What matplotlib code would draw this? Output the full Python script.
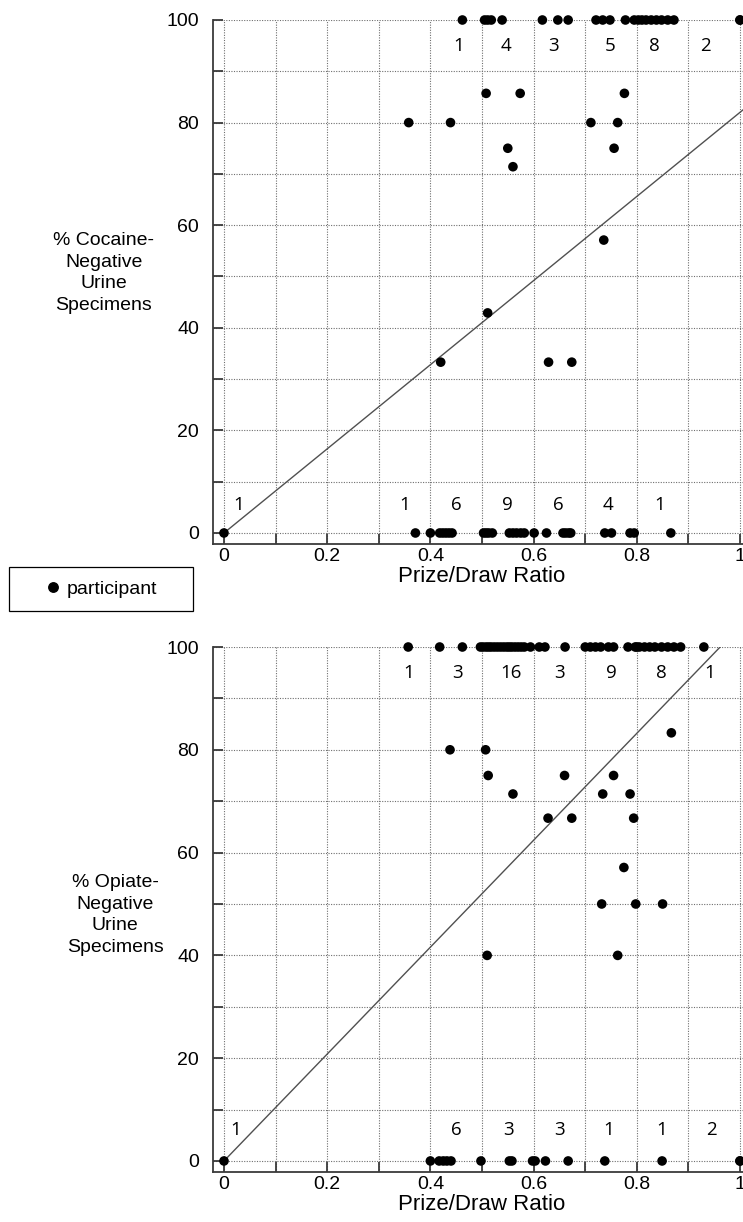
import numpy as np
import matplotlib
matplotlib.use("Agg")
import matplotlib.pyplot as plt
from matplotlib.lines import Line2D
from matplotlib.ticker import FixedLocator, FuncFormatter

# ---------------- data ----------------
# Cocaine panel
coc_top_x = [0.462, 0.505, 0.511, 0.518, 0.539, 0.617, 0.647, 0.667,
             0.721, 0.734, 0.748, 0.778, 0.795, 0.803, 0.81, 0.818, 0.828,
             0.838, 0.848, 0.86, 0.872, 1.0, 1.0]
coc_mid_x = [0.508, 0.574, 0.776, 0.358, 0.439, 0.711, 0.763, 0.550, 0.756,
             0.560, 0.736, 0.511, 0.420, 0.629, 0.674]
coc_mid_y = [85.7, 85.7, 85.7, 80.0, 80.0, 80.0, 80.0, 75.0, 75.0,
             71.4, 57.1, 42.9, 33.3, 33.3, 33.3]
coc_bot_x = [0.0, 0.371, 0.40, 0.418, 0.424, 0.43, 0.436, 0.442, 0.503, 0.508,
             0.513, 0.52, 0.553, 0.56, 0.567, 0.575, 0.582, 0.601, 0.625,
             0.657, 0.662, 0.668, 0.672, 0.738, 0.751, 0.787, 0.795, 0.866]
coc_slope = 82.0
coc_top_counts = ["1", "4", "3", "5", "8", "2"]
coc_top_count_x = [0.455, 0.546, 0.639, 0.748, 0.835, 0.933]
coc_bot_counts = ["1", "1", "6", "9", "6", "4", "1"]
coc_bot_count_x = [0.028, 0.351, 0.451, 0.549, 0.647, 0.745, 0.845]

# Opiate panel
opi_top_x = [0.357, 0.418, 0.462, 0.497, 0.502, 0.508, 0.513, 0.518, 0.524,
             0.53, 0.536, 0.542, 0.548, 0.553, 0.558, 0.564, 0.57, 0.576,
             0.582, 0.594, 0.611, 0.622, 0.661, 0.70, 0.71, 0.72, 0.73,
             0.745, 0.755, 0.783, 0.797, 0.80, 0.805, 0.815, 0.825, 0.835,
             0.848, 0.86, 0.872, 0.885, 0.93]
opi_mid_x = [0.867, 0.438, 0.507, 0.512, 0.660, 0.755, 0.560, 0.734, 0.787,
             0.628, 0.674, 0.794, 0.775, 0.732, 0.798, 0.850, 0.510, 0.763]
opi_mid_y = [83.3, 80.0, 80.0, 75.0, 75.0, 75.0, 71.4, 71.4, 71.4,
             66.7, 66.7, 66.7, 57.1, 50.0, 50.0, 50.0, 40.0, 40.0]
opi_bot_x = [0.0, 0.40, 0.417, 0.425, 0.432, 0.44, 0.498, 0.553, 0.558, 0.598,
             0.603, 0.623, 0.667, 0.738, 0.849, 1.0, 1.0]
opi_slope = 104.0
opi_top_counts = ["1", "3", "16", "3", "9", "8", "1"]
opi_top_count_x = [0.358, 0.452, 0.556, 0.651, 0.75, 0.848, 0.942]
opi_bot_counts = ["1", "6", "3", "3", "1", "1", "2"]
opi_bot_count_x = [0.023, 0.45, 0.552, 0.651, 0.746, 0.849, 0.944]

x_ticks = [round(0.1 * i, 1) for i in range(11)]
y_ticks = list(range(0, 101, 10))
x_ticklabels = {0.0: "0", 0.2: "0.2", 0.4: "0.4", 0.6: "0.6", 0.8: "0.8", 1.0: "1"}

ylabels = ["% Cocaine-\nNegative\nUrine\nSpecimens",
           "% Opiate-\nNegative\nUrine\nSpecimens"]
xlabel = "Prize/Draw Ratio"
legend_label = "participant"

# ---------------- figure ----------------
W, H = 743, 1222
fig = plt.figure(figsize=(W / 100, H / 100), dpi=100)
fig.patch.set_facecolor("white")

SANS = "Liberation Sans"
NUMF = "Open Sans"
spine_c = "#3a3a3a"

def px_rect(left, top, right, bottom):
    return [left / W, 1 - bottom / H, (right - left) / W, (bottom - top) / H]

ax1 = fig.add_axes(px_rect(213, 20, 750, 543.6))
ax2 = fig.add_axes(px_rect(213, 647, 750, 1171.6))

panels = [
    (ax1, coc_top_x, coc_mid_x, coc_mid_y, coc_bot_x, coc_slope,
     coc_top_counts, coc_top_count_x, coc_bot_counts, coc_bot_count_x, 5.5),
    (ax2, opi_top_x, opi_mid_x, opi_mid_y, opi_bot_x, opi_slope,
     opi_top_counts, opi_top_count_x, opi_bot_counts, opi_bot_count_x, 6.0),
]

for i, (ax, tx, mx, my, bx, slope, tc, tcx, bc, bcx, bot_y) in enumerate(panels):
    ax.set_xlim(-0.0213, 1.0194)
    ax.set_ylim(-2.07, 100)
    ax.xaxis.set_major_locator(FixedLocator(x_ticks))
    ax.yaxis.set_major_locator(FixedLocator(y_ticks))
    ax.xaxis.set_major_formatter(FuncFormatter(
        lambda v, p: x_ticklabels.get(round(v, 1), "")))
    ax.yaxis.set_major_formatter(FuncFormatter(
        lambda v, p: f"{int(round(v))}" if int(round(v)) % 20 == 0 else ""))
    ax.grid(True, which="major", color="#6f6f6f", linestyle=(0, (1, 1.3)),
            linewidth=0.8)
    ax.set_axisbelow(True)
    for s in ("top", "right"):
        ax.spines[s].set_visible(False)
    for s in ("left", "bottom"):
        ax.spines[s].set_color(spine_c)
        ax.spines[s].set_linewidth(1.3)
    ax.tick_params(axis="both", direction="in", length=7.5, width=1.3,
                   color=spine_c, labelsize=14, labelcolor="black")
    ax.tick_params(axis="x", pad=3)
    ax.tick_params(axis="y", pad=10)
    for lab in ax.get_xticklabels() + ax.get_yticklabels():
        lab.set_fontfamily(SANS)

    # regression line
    lx = np.array([0.0, 1.02])
    ax.plot(lx, slope * lx, color="#505050", linewidth=1.0, zorder=2)

    # points
    xs = list(tx) + list(mx) + list(bx)
    ys = [100.0] * len(tx) + list(my) + [0.0] * len(bx)
    ax.scatter(xs, ys, s=48, color="black", edgecolors="none",
               zorder=4, clip_on=False)

    # count labels
    for t, x in zip(tc, tcx):
        ax.text(x, 95, t, ha="center", va="center", fontsize=13.5,
                fontfamily=NUMF, color="black")
    for t, x in zip(bc, bcx):
        ax.text(x, bot_y, t, ha="center", va="center", fontsize=13.5,
                fontfamily=NUMF, color="black")

    ax.set_xlabel(xlabel, fontsize=16, fontfamily=SANS, labelpad=1)

# y labels (horizontal, multi-line) placed in figure coordinates
fig.text(104 / W, 1 - 273 / H, ylabels[0], ha="center", va="center",
         fontsize=14, fontfamily=SANS, multialignment="center",
         linespacing=1.38)
fig.text(115 / W, 1 - 915 / H, ylabels[1], ha="center", va="center",
         fontsize=14, fontfamily=SANS, multialignment="center",
         linespacing=1.38)

# legend
handle = Line2D([], [], marker="o", linestyle="none", color="black",
                markersize=6.8)
leg = fig.legend([handle], [legend_label], loc="lower left",
                 bbox_to_anchor=(9 / W, 1 - 611 / H, 184 / W, 43 / H),
                 mode="expand", borderaxespad=0, frameon=True, fancybox=False,
                 edgecolor="black", framealpha=1, borderpad=0.68,
                 handlelength=3.14, handletextpad=-0.84,
                 prop={"family": SANS, "size": 14})
leg.get_frame().set_linewidth(0.9)

fig.savefig("out.png", dpi=100, facecolor="white")
